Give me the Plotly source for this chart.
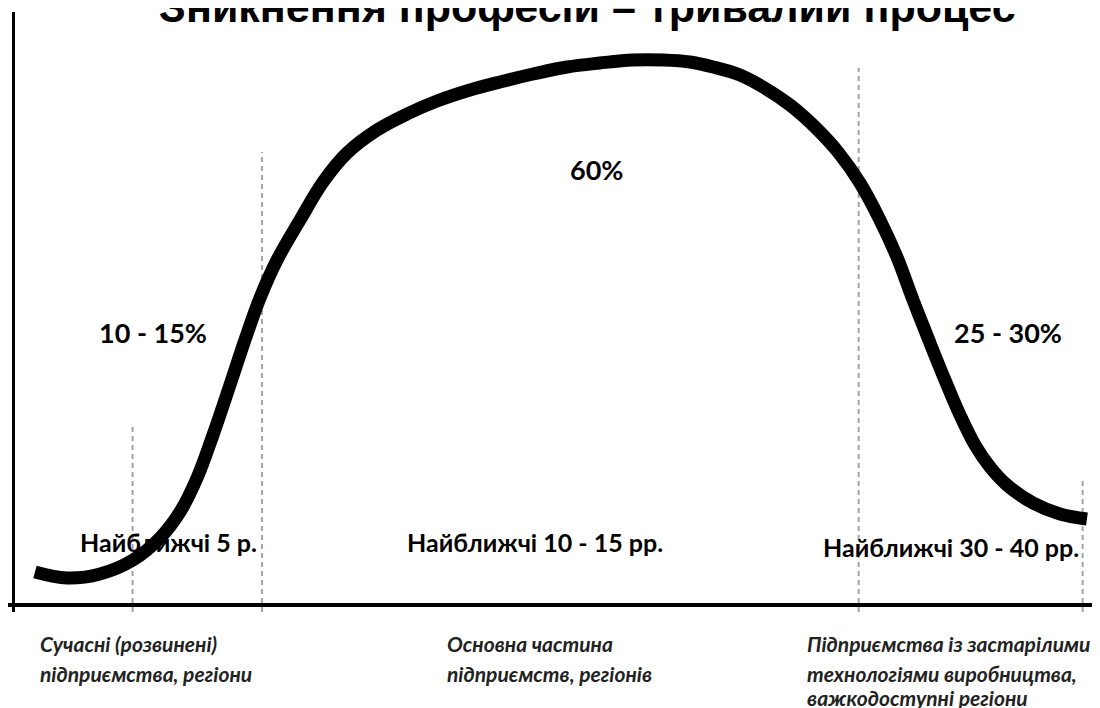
import plotly.graph_objects as go

# ---- data (arbitrary units: time 0-100, share 0-100) ----
curve_x = [2.02, 4.97, 8.00, 11.04, 13.52, 15.36, 16.93, 18.40, 19.96, 21.34, 22.72, 24.29,
           26.40, 28.52, 30.73, 33.49, 36.25, 39.01, 42.04, 44.80, 47.84, 50.97, 54.00,
           57.04, 59.80, 62.28, 64.40, 66.88, 69.00, 71.48, 73.78, 75.90, 77.92, 79.76,
           81.32, 82.80, 84.36, 85.74, 87.12, 88.50, 89.88, 91.44, 93.84, 96.32, 98.80]
curve_y = [5.56, 4.55, 5.23, 7.59, 11.30, 15.68, 21.42, 28.67, 37.10, 44.69, 51.77, 58.18,
           64.92, 71.33, 76.22, 80.10, 82.80, 84.99, 86.85, 88.20, 89.54, 90.73, 91.40,
           91.91, 91.91, 91.57, 90.73, 89.38, 87.35, 84.32, 80.61, 76.39, 71.16, 64.92,
           58.68, 51.43, 44.18, 37.94, 32.04, 26.98, 23.27, 20.24, 17.20, 15.35, 14.50]

boundary_x = [11.0, 22.9, 77.8, 98.4]
boundary_top = [30.4, 76.4, 90.6, 21.1]

share_labels = ["10 - 15%", "60%", "25 - 30%"]
share_x = [12.9, 53.7, 91.5]
share_y = [45.9, 73.4, 45.9]

period_labels = ["Найближчі 5 р.", "Найближчі 10 - 15 рр.", "Найближчі 30 - 40 рр."]
period_x = [14.3, 48.0, 86.3]
period_y = [10.6, 10.6, 9.8]

group_labels = [
    ["Сучасні (розвинені)", "підприємства, регіони"],
    ["Основна частина", "підприємств, регіонів"],
    ["Підприємства із застарілими", "технологіями виробництва,", "важкодоступні регіони"],
]
group_x = [2.3, 39.7, 72.9]

title_text = "Зникнення професій – тривалий процес"

X_RANGE = [-0.46, 100.0]
Y_RANGE = [-1.18, 100.0]

fig = go.Figure()

# dashed boundaries
for bx, bt in zip(boundary_x, boundary_top):
    fig.add_trace(go.Scatter(
        x=[bx, bx], y=[Y_RANGE[0], bt], mode="lines",
        line=dict(color="#a3a3a3", width=2, dash="5px,4px"),
        hoverinfo="skip", showlegend=False))

# main curve
fig.add_trace(go.Scatter(
    x=curve_x, y=curve_y, mode="lines",
    line=dict(color="black", width=13, shape="spline", smoothing=1.0),
    hoverinfo="skip", showlegend=False))

annotations = []
for t, x, y in zip(share_labels, share_x, share_y):
    annotations.append(dict(x=x, y=y, xref="x", yref="y", text=t, showarrow=False,
                            font=dict(family="Lato", size=27, color="black", weight="bold")))
for t, x, y in zip(period_labels, period_x, period_y):
    annotations.append(dict(x=x, y=y, xref="x", yref="y", text=t, showarrow=False,
                            font=dict(family="Lato", size=25, color="black", weight="bold")))

# page-pixel helpers (plot area spans page y 12..612; body margin 8px)
plot_top_px, plot_bot_px = 12, 612
def paper_y(px):
    return (plot_bot_px - px) / (plot_bot_px - plot_top_px)

line_px = [643, 673, 697]
for gx, lines in zip(group_x, group_labels):
    for i, t in enumerate(lines):
        annotations.append(dict(x=gx, y=paper_y(line_px[i]), xref="x", yref="paper",
                                text=t, showarrow=False, xanchor="left", yanchor="middle",
                                font=dict(family="Lato", size=21, color="#222222",
                                          style="italic", weight="bold")))

annotations.append(dict(x=0.531, y=paper_y(7), xref="paper", yref="paper", text=title_text,
                        showarrow=False, xanchor="center", yanchor="middle",
                        font=dict(family="Liberation Sans", size=43, color="black",
                                  weight="bold")))

fig.update_layout(
    width=1092, height=700,
    margin=dict(l=0, r=0, t=4, b=96),
    paper_bgcolor="white", plot_bgcolor="white",
    annotations=annotations,
    xaxis=dict(range=X_RANGE, showgrid=False, showticklabels=False, ticks="",
               zeroline=True, zerolinecolor="black", zerolinewidth=3, fixedrange=True),
    yaxis=dict(range=Y_RANGE, showgrid=False, showticklabels=False, ticks="",
               zeroline=True, zerolinecolor="black", zerolinewidth=4, fixedrange=True),
)

fig.write_html("out.html")
